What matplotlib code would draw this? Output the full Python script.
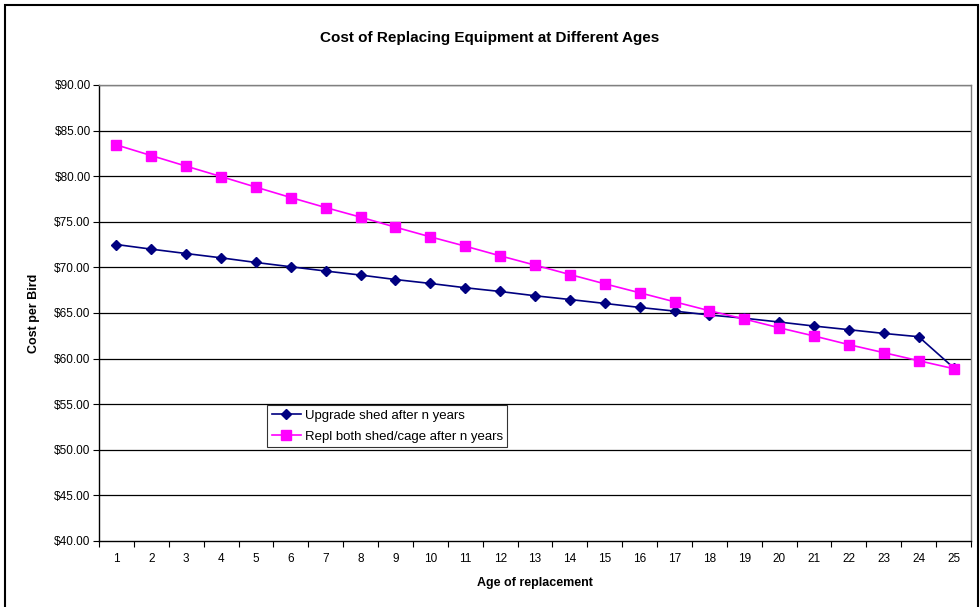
import matplotlib
matplotlib.use("Agg")
import matplotlib.pyplot as plt
from matplotlib.patches import Rectangle
import numpy as np

plt.rcParams['font.family'] = ['Liberation Sans', 'DejaVu Sans']

ages = list(range(1, 26))
upgrade_shed = [72.51, 72.00, 71.52, 71.05, 70.54, 70.07, 69.60, 69.16, 68.67, 68.24,
                67.77, 67.36, 66.89, 66.48, 66.05, 65.61, 65.21, 64.78, 64.43, 64.01,
                63.57, 63.17, 62.76, 62.40, 59.00]
repl_both = [83.43, 82.26, 81.10, 79.96, 78.80, 77.66, 76.56, 75.51, 74.41, 73.35,
             72.33, 71.27, 70.25, 69.22, 68.20, 67.22, 66.23, 65.25, 64.34, 63.38,
             62.48, 61.53, 60.65, 59.77, 58.90]
y_ticks = [40, 45, 50, 55, 60, 65, 70, 75, 80, 85, 90]

fig = plt.figure(figsize=(9.8, 6.07), dpi=100)
# outer chart border
fig.patches.append(Rectangle((5/980, -0.01), 973/980, 1 - 5/607 + 0.01,
                             transform=fig.transFigure, fill=False,
                             edgecolor='black', linewidth=1.5))

ax = fig.add_axes([99/980, 1 - 541/607, 872/980, 456/607])

for v in y_ticks[1:]:
    ax.axhline(v, color='black', linewidth=0.9, zorder=1)

ax.plot(ages, upgrade_shed, color='#000080', marker='D', markersize=5,
        linewidth=1.2, label='Upgrade shed after n years', zorder=3)
ax.plot(ages, repl_both, color='#FF00FF', marker='s', markersize=6.5,
        linewidth=1.2, label='Repl both shed/cage after n years', zorder=3)

ax.set_xlim(0.5, 25.5)
ax.set_ylim(40, 90)
ax.set_yticks(y_ticks)
ax.set_yticklabels([f"${v:.2f}" for v in y_ticks], fontsize=8.5)
ax.set_xticks(ages)
ax.set_xticklabels([str(a) for a in ages], fontsize=8.5)
ax.set_xticks(np.arange(0.5, 26, 1), minor=True)
ax.tick_params(axis='x', which='major', length=0, pad=9)
ax.tick_params(axis='x', which='minor', length=4, direction='out', width=0.8)
ax.tick_params(axis='y', length=4, direction='out', width=0.8, pad=2)

for side in ['top', 'right']:
    ax.spines[side].set_color('#808080')
    ax.spines[side].set_linewidth(1.0)
for side in ['left', 'bottom']:
    ax.spines[side].set_color('black')
    ax.spines[side].set_linewidth(1.0)

ax.set_xlabel('Age of replacement', fontsize=9, fontweight='bold', labelpad=8)
ax.set_ylabel('Cost per Bird', fontsize=9, fontweight='bold', labelpad=10)
fig.text(0.5, 1 - 38/607, 'Cost of Replacing Equipment at Different Ages',
         ha='center', va='center', fontsize=11, fontweight='bold')

leg = ax.legend(loc='upper left', bbox_to_anchor=((267-99)/872, (541-405)/456),
                fontsize=9.5, frameon=True, fancybox=False, borderpad=0.35,
                labelspacing=0.65, handlelength=2.2, handletextpad=0.3,
                borderaxespad=0)
leg.get_frame().set_edgecolor('black')
leg.get_frame().set_linewidth(0.8)
leg.set_zorder(5)

fig.savefig('out.png', dpi=100)
